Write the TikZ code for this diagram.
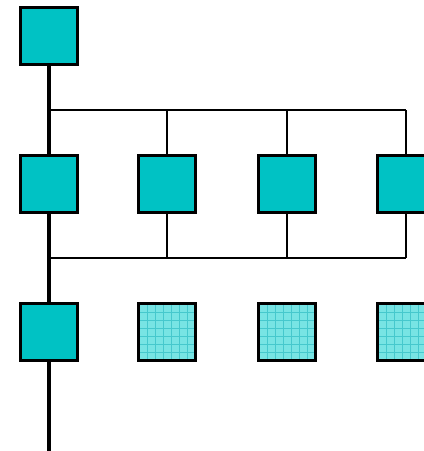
\documentclass[tikz,border=0pt]{standalone}
\begin{document}
\begin{tikzpicture}[x=1pt,y=-1pt,
  unit/.style={draw=black,line width=2.2pt,fill=unitfill,minimum size=57pt,inner sep=0pt,outer sep=0pt},
  spare/.style={draw=black,line width=2.2pt,fill=sparefill,minimum size=57pt,inner sep=0pt,outer sep=0pt},
  trunk/.style={line width=4.5pt},
  branch/.style={line width=2.6pt}]
\definecolor{unitfill}{RGB}{0,194,196}
\definecolor{sparefill}{RGB}{120,228,228}
\definecolor{gridline}{RGB}{70,200,205}
\useasboundingbox (0,0) rectangle (424,451);
\fill[white] (0,0) rectangle (424,451);

% bus rails and main trunk
\coordinate (top) at (49,36);
\coordinate (jA) at (49,110);
\coordinate (jB) at (49,258);
\coordinate (bottom) at (49,451);
\foreach \x/\n in {167/2,287/3,406/4}{
  \coordinate (a\n) at (\x,110);
  \coordinate (b\n) at (\x,258);
}
\draw[trunk] (top) -- (bottom);
\draw[branch] (jA) -- (a4);
\draw[branch] (jB) -- (b4);
\foreach \n in {2,3,4}{
  \draw[branch] (a\n) -- (b\n);
}

% top unit
\node[unit] (u0) at (49,36) {};
% middle row of active units
\node[unit] (u1) at (49,184) {};
\node[unit] (u2) at (167,184) {};
\node[unit] (u3) at (287,184) {};
\node[unit] (u4) at (406,184) {};
% bottom row: one active, three spares
\node[unit] (v1) at (49,332) {};
\foreach \x/\n in {167/2,287/3,406/4}{
  \node[spare] (v\n) at (\x,332) {};
  \begin{scope}
    \clip (v\n.south west) rectangle (v\n.north east);
    \foreach \d in {-28,-20,...,28}{
      \draw[gridline,line width=0.8pt] (\x+\d,304) -- (\x+\d,361);
      \draw[gridline,line width=0.8pt] (\x-29,332+\d) -- (\x+29,332+\d);
    }
  \end{scope}
  \draw[black,line width=2.2pt] (v\n.south west) rectangle (v\n.north east);
}
\end{tikzpicture}
\end{document}
